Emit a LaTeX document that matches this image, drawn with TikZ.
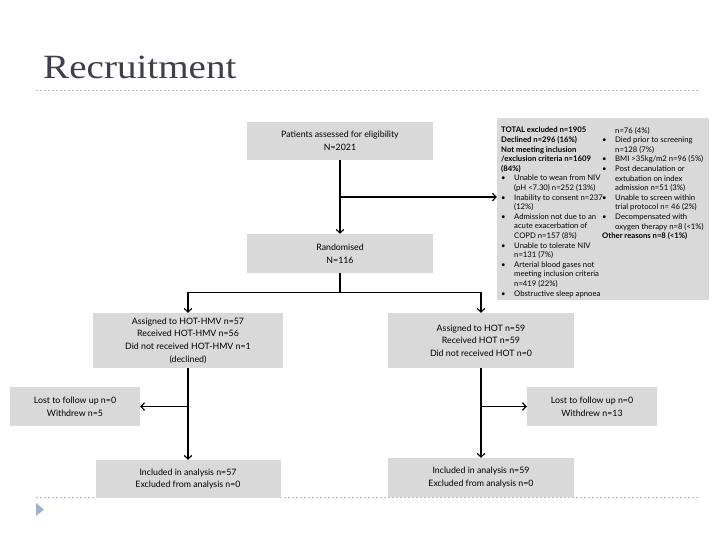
\documentclass[tikz,border=0pt]{standalone}
\usepackage{fontspec}
\setmainfont{Lato}
\newfontfamily\titlefont{Liberation Serif}
\usetikzlibrary{arrows.meta, calc}

\definecolor{boxgray}{HTML}{D9D9D9}
\definecolor{rulebl}{HTML}{A9BDD2}
\definecolor{markbl}{HTML}{9CB4D0}
\definecolor{titlegray}{HTML}{3E3E4C}

\newcommand\bitem{\makebox[13pt][l]{\textbullet}}
\newcommand\bgap{\hspace*{13pt}}

\begin{document}
\begin{tikzpicture}[x=1pt, y=-1pt,
		box/.style={fill=boxgray, inner sep=0pt, align=center,
			font=\fontsize{8.8}{12.7}\selectfont},
		small/.style={inner sep=0pt, align=left, anchor=north west,
			font=\fontsize{7.7}{9.6}\selectfont},
		link/.style={line width=1.2pt},
		arrow/.style={link, -{Straight Barb[length=3.5pt, width=7.5pt]}},
		rule/.style={rulebl, line width=0.8pt, dash pattern=on 2pt off 2pt}
		]
		\useasboundingbox [fill=white] (0,0) rectangle (714,535);
		% slide frame
		\node [anchor=base west, inner sep=0pt, text=titlegray,
			font=\titlefont\fontsize{34}{34}\selectfont]
		(title) at (43,78) {\scalebox{1.15}[1]{Recruitment}};
		\draw [rule] (36,90) -- (700,90);
		\draw [rule] (36,497) -- (700,497);
		\fill [markbl] (36,503) -- (44,509.5) -- (36,516) -- cycle;
		% boxes
		\node [box, minimum width=186pt, minimum height=38pt]
		(assess) at (340,141) {Patients assessed for eligibility\\N=2021};
		\node [box, minimum width=212pt, minimum height=182pt]
		(excl) at (603,209) {};
		\node [small] (exclLeft) at (501,127)
		{\textbf{TOTAL excluded n=1905}\\
			\textbf{Declined n=296 (16\%)}\\
			\textbf{Not meeting inclusion}\\
			\textbf{/exclusion criteria n=1609}\\
			\textbf{(84\%)}\\
			\bitem Unable to wean from NIV\\
			\bgap (pH <7.30) n=252 (13\%)\\
			\bitem Inability to consent n=237\\
			\bgap (12\%)\\
			\bitem Admission not due to an\\
			\bgap acute exacerbation of\\
			\bgap COPD n=157 (8\%)\\
			\bitem Unable to tolerate NIV\\
			\bgap n=131 (7\%)\\
			\bitem Arterial blood gases not\\
			\bgap meeting inclusion criteria\\
			\bgap n=419 (22\%)\\
			\bitem Obstructive sleep apnoea};
		\node [small] (exclRight) at (602,127)
		{\bgap n=76 (4\%)\\
			\bitem Died prior to screening\\
			\bgap n=128 (7\%)\\
			\bitem BMI >35kg/m2 n=96 (5\%)\\
			\bitem Post decanulation or\\
			\bgap extubation on index\\
			\bgap admission n=51 (3\%)\\
			\bitem Unable to screen within\\
			\bgap trial protocol n= 46 (2\%)\\
			\bitem Decompensated with\\
			\bgap oxygen therapy n=8 (<1\%)\\
			\textbf{Other reasons n=8 (<1\%)}};
		\node [box, minimum width=186pt, minimum height=39pt]
		(rand) at (340,253.5) {Randomised\\N=116};
		\node [box, minimum width=190pt, minimum height=55pt]
		(hmv) at (188,340.5) {Assigned to HOT-HMV n=57\\Received HOT-HMV n=56\\
			Did not received HOT-HMV n=1\\(declined)};
		\node [box, minimum width=186pt, minimum height=55pt]
		(hot) at (481,340.5) {Assigned to HOT n=59\\Received HOT n=59\\
			Did not received HOT n=0};
		\node [box, minimum width=130pt, minimum height=39pt]
		(lostHmv) at (75,406.5) {Lost to follow up n=0\\Withdrew n=5};
		\node [box, minimum width=130pt, minimum height=39pt]
		(lostHot) at (592,406.5) {Lost to follow up n=0\\Withdrew n=13};
		\node [box, minimum width=185pt, minimum height=38pt]
		(inclHmv) at (188,479) {Included in analysis n=57\\Excluded from analysis n=0};
		\node [box, minimum width=186pt, minimum height=39pt]
		(inclHot) at (481,477.5) {Included in analysis n=59\\Excluded from analysis n=0};
		% connectors
		\draw [arrow] (assess) -- (rand);
		\coordinate (exclFork) at ($(assess.south)!0.5!(rand.north)$);
		\draw [arrow] (exclFork) -- (exclFork -| excl.west);
		\coordinate (armFork) at ($(rand.south)+(0,19)$);
		\draw [link] (rand) -- (armFork);
		\draw [arrow] (armFork) -| (hmv);
		\draw [arrow] (armFork) -| (hot);
		\draw [arrow] (hmv) -- (inclHmv);
		\draw [arrow] (hot) -- (inclHot);
		\draw [arrow] (hmv.south |- lostHmv.east) -- (lostHmv);
		\draw [arrow] (hot.south |- lostHot.west) -- (lostHot);
	\end{tikzpicture}
\end{document}
